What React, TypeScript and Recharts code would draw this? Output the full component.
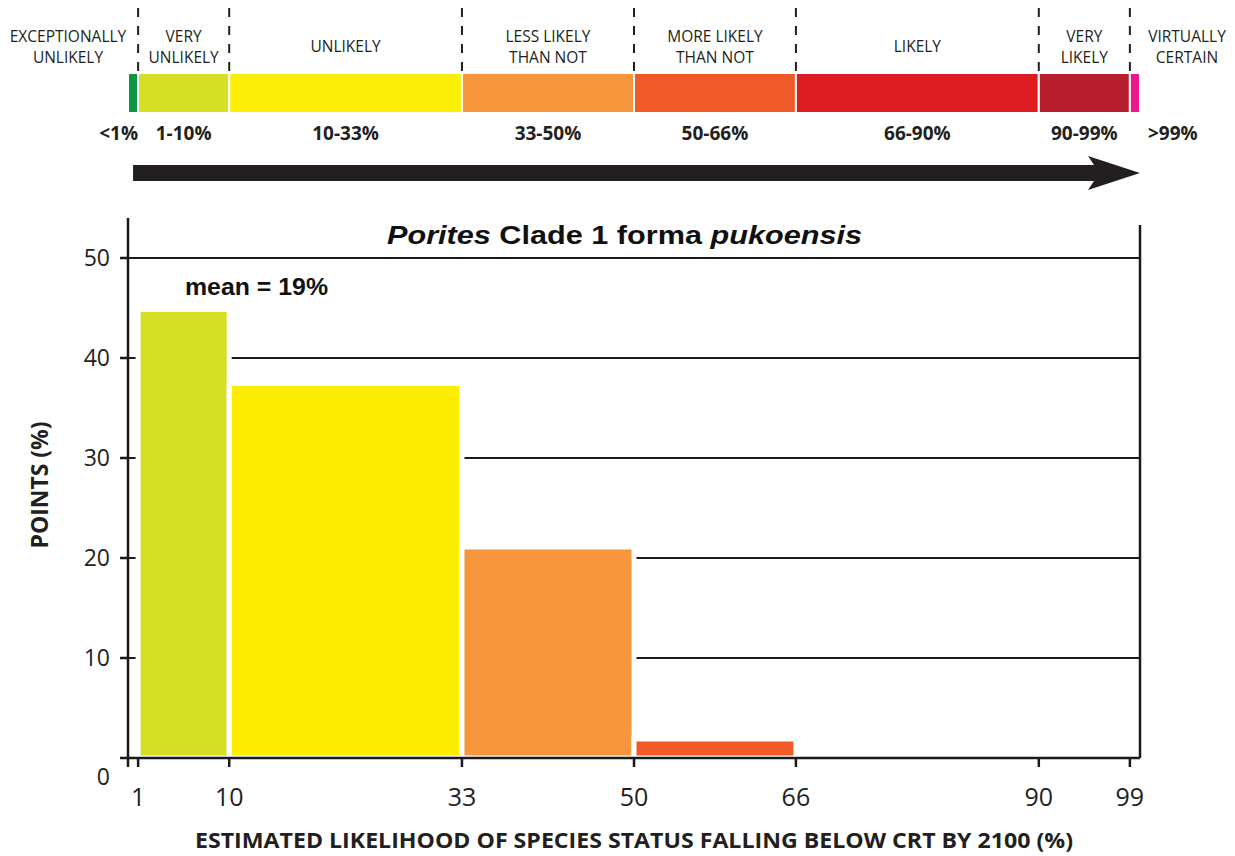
import React from 'react';
import {
  ComposedChart,
  XAxis,
  YAxis,
  CartesianGrid,
  ReferenceArea,
  ReferenceLine,
} from 'recharts';

// ---------- top likelihood scale ----------
const bandStart = [0, 1, 10, 33, 50, 66, 90, 99];
const bandEnd = [1, 10, 33, 50, 66, 90, 99, 100];
const bandNames = [
  ['EXCEPTIONALLY', 'UNLIKELY'],
  ['VERY', 'UNLIKELY'],
  ['UNLIKELY'],
  ['LESS LIKELY', 'THAN NOT'],
  ['MORE LIKELY', 'THAN NOT'],
  ['LIKELY'],
  ['VERY', 'LIKELY'],
  ['VIRTUALLY', 'CERTAIN'],
];
const bandRanges = ['<1%', '1-10%', '10-33%', '33-50%', '50-66%', '66-90%', '90-99%', '>99%'];
const bandColors = ['#0e9647', '#d4df26', '#fcee09', '#f7963d', '#f05a28', '#dc1c23', '#b81f2e', '#ec178c'];
const bandBoundaries = [1, 10, 33, 50, 66, 90, 99];

// ---------- histogram ----------
const binStart = [1, 10, 33, 50, 66, 90];
const binEnd = [10, 33, 50, 66, 90, 99];
const binPoints = [44.85, 37.45, 21.1, 1.9, 0, 0];
const binColors = ['#d4df26', '#fdee00', '#f7963d', '#f05a28', '#dc1c23', '#b81f2e'];

const xTicks = [0, 1, 10, 33, 50, 66, 90, 99];
const yTicks = [0, 10, 20, 30, 40, 50];
const gridValues = [10, 20, 30, 40, 50];

const titleItalic1 = 'Porites';
const titleMid = ' Clade 1 forma ';
const titleItalic2 = 'pukoensis';
const meanLabel = 'mean = 19%';
const xAxisTitle = 'ESTIMATED LIKELIHOOD OF SPECIES STATUS FALLING BELOW CRT BY 2100 (%)';
const yAxisTitle = 'POINTS (%)';

const INK = '#1a1a1a';
const SANS = "'Open Sans', 'Noto Sans', sans-serif";
const ARIAL = "'Liberation Sans', Arial, sans-serif";

const topData = bandStart.map((s, i) => ({ x: s, y: i }));
const histData = binStart.map((s, i) => ({ x: s, y: binPoints[i] }));

const BandLabel = (props: any) => {
  const { viewBox, index } = props;
  if (!viewBox) return null;
  const { x, y, width, height } = viewBox;
  const names = bandNames[index];
  let cx = x + width / 2;
  let rx = x + width / 2;
  let ranchor: any = 'middle';
  if (index === 0) {
    cx = x - 60;
    rx = x + width;
    ranchor = 'end';
  }
  if (index === bandNames.length - 1) {
    cx = x + width + 47;
    rx = x + width + 8;
    ranchor = 'start';
  }
  return (
    <g>
      {names.length === 2 ? (
        <text x={cx} textAnchor="middle" fontFamily={SANS} fontSize={15.5} fill="#231f20">
          <tspan x={cx} y={y - 31}>{names[0]}</tspan>
          <tspan x={cx} y={y - 10}>{names[1]}</tspan>
        </text>
      ) : (
        <text x={cx} y={y - 21} textAnchor="middle" fontFamily={SANS} fontSize={15.5} fill="#231f20">
          {names[0]}
        </text>
      )}
      <text x={rx} y={y + height + 27} textAnchor={ranchor} fontFamily={SANS} fontWeight={700} fontSize={19} fill="#231f20">
        {bandRanges[index]}
      </text>
    </g>
  );
};

const ArrowShape = (props: any) => {
  const { x1, y1, x2 } = props;
  if (x1 == null) return null;
  const half = 8;
  const headHalf = 17;
  const pts = [
    [x1, y1 - half],
    [x2 - 46, y1 - half],
    [x2 - 52, y1 - headHalf],
    [x2, y1],
    [x2 - 52, y1 + headHalf],
    [x2 - 46, y1 + half],
    [x1, y1 + half],
  ]
    .map((p) => p.join(','))
    .join(' ');
  return <polygon points={pts} fill="#231f20" />;
};

const XTick = (props: any) => {
  const { x, y, payload } = props;
  if (payload.value === 0) return null;
  return (
    <text x={x} y={y} dy={37} textAnchor="middle" fontFamily={SANS} fontSize={25} fill="#231f20">
      {payload.value}
    </text>
  );
};

const YTick = (props: any) => {
  const { x, y, payload } = props;
  return (
    <text x={x} y={y} dy={payload.value === 0 ? 27 : 8} textAnchor="end" fontFamily={SANS} fontSize={23} fill="#231f20">
      {payload.value}
    </text>
  );
};

const XTitle = (props: any) => {
  const vb = props.viewBox;
  if (!vb) return null;
  const cx = vb.x + vb.width / 2;
  return (
    <text x={cx} y={vb.y + 90} textAnchor="middle" fontFamily={SANS} fontWeight={700} fontSize={22} fill="#231f20" textLength={878} lengthAdjust="spacingAndGlyphs">
      {xAxisTitle}
    </text>
  );
};

const YTitle = (props: any) => {
  const vb = props.viewBox;
  if (!vb) return null;
  const cy = vb.y + vb.height / 2 - 3;
  const tx = vb.x - 20;
  return (
    <text x={tx} y={cy} transform={`rotate(-90, ${tx}, ${cy})`} textAnchor="middle" fontFamily={SANS} fontWeight={700} fontSize={24} fill="#231f20" textLength={127} lengthAdjust="spacingAndGlyphs">
      {yAxisTitle}
    </text>
  );
};

export default function App() {
  return (
    <div style={{ position: 'absolute', left: 0, top: 0, width: 1235, height: 856, background: '#fff' }}>
      <div style={{ position: 'absolute', left: 0, top: 0 }}>
        <ComposedChart width={1235} height={210} data={topData} margin={{ top: 8, right: 95, bottom: 10, left: 128 }}>
          <XAxis type="number" dataKey="x" domain={[0, 100]} hide allowDataOverflow />
          <YAxis type="number" dataKey="y" domain={[0, 192]} reversed hide allowDataOverflow />
          {bandStart.map((s, i) => (
            <ReferenceArea
              key={'band' + i}
              x1={s}
              x2={bandEnd[i]}
              y1={65}
              y2={105}
              fill={bandColors[i]}
              fillOpacity={1}
              stroke="#ffffff"
              strokeWidth={2}
              ifOverflow="visible"
              label={<BandLabel index={i} />}
            />
          ))}
          {bandBoundaries.map((b) => (
            <ReferenceLine
              key={'dash' + b}
              segment={[{ x: b, y: 0 }, { x: b, y: 65 }]}
              stroke="#231f20"
              strokeWidth={2}
              strokeDasharray="9 9"
              ifOverflow="visible"
            />
          ))}
          <ReferenceLine
            segment={[{ x: 0.5, y: 165 }, { x: 100, y: 165 }]}
            ifOverflow="visible"
            shape={<ArrowShape />}
          />
        </ComposedChart>
      </div>
      <div style={{ position: 'absolute', left: 0, top: 0 }}>
        <ComposedChart width={1235} height={856} data={histData} margin={{ top: 218, right: 95, bottom: 38, left: 68 }}>
          <CartesianGrid horizontal vertical={false} horizontalValues={gridValues} stroke={INK} strokeWidth={2} />
          {binStart.map((s, i) =>
            binPoints[i] > 0 ? (
              <ReferenceArea
                key={'bin' + i}
                x1={s}
                x2={binEnd[i]}
                y1={0}
                y2={binPoints[i]}
                fill={binColors[i]}
                fillOpacity={1}
                stroke="#ffffff"
                strokeWidth={5}
                ifOverflow="visible"
              />
            ) : null
          )}
          <XAxis
            type="number"
            dataKey="x"
            domain={[0, 100]}
            ticks={xTicks}
            interval={0}
            tickSize={9}
            tickMargin={2}
            height={60}
            axisLine={{ stroke: INK, strokeWidth: 2.5 }}
            tickLine={{ stroke: INK, strokeWidth: 2.5 }}
            tick={<XTick />}
            label={<XTitle />}
            allowDataOverflow
          />
          <YAxis
            type="number"
            dataKey="y"
            domain={[0, 54]}
            ticks={yTicks}
            interval={0}
            tickSize={8}
            tickMargin={10}
            width={60}
            axisLine={{ stroke: INK, strokeWidth: 2.5 }}
            tickLine={{ stroke: INK, strokeWidth: 2.5 }}
            tick={<YTick />}
            label={<YTitle />}
            allowDataOverflow
          />
          <ReferenceLine
            segment={[{ x: 100, y: 0 }, { x: 100, y: 53.3 }]}
            stroke={INK}
            strokeWidth={2.5}
            ifOverflow="visible"
          />
          <text x={624.5} y={244} textAnchor="middle" fontFamily={ARIAL} fontWeight={700} fontSize={26.5} fill="#111" textLength={475} lengthAdjust="spacingAndGlyphs">
            <tspan fontStyle="italic">{titleItalic1}</tspan>
            <tspan>{titleMid}</tspan>
            <tspan fontStyle="italic">{titleItalic2}</tspan>
          </text>
          <text x={185} y={295} fontFamily={ARIAL} fontWeight={700} fontSize={23} fill="#111" textLength={143} lengthAdjust="spacingAndGlyphs">
            {meanLabel}
          </text>
        </ComposedChart>
      </div>
    </div>
  );
}
